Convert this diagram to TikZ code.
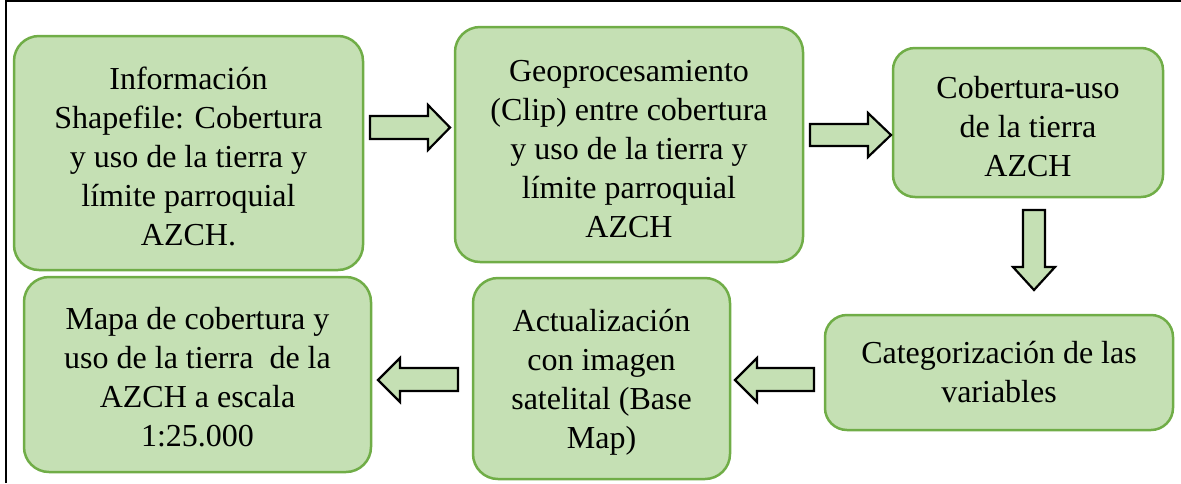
\documentclass[tikz,border=0pt]{standalone}
\usepackage{fontspec}
\setmainfont{Liberation Serif}
\newfontfamily\tnr{Liberation Serif}
\definecolor{boxfill}{HTML}{C5E0B4}
\definecolor{boxline}{HTML}{70AD47}
\tikzset{
  stepbox/.style={draw=boxline, fill=boxfill, line width=2.5pt, rounded corners=25pt, inner sep=0pt},
  boxtext/.style={inner sep=0pt, align=center, font=\tnr\fontsize{32}{39}\selectfont},
  blockarrow/.style={draw=black, fill=boxfill, line width=2.2pt, line join=miter},
  frameline/.style={draw=black, line width=2pt}
}
\begin{document}
\begin{tikzpicture}[x=1pt,y=-1pt]
\useasboundingbox (0,0) rectangle (1181,483);
\draw[frameline] (6,483) -- (6,1) -- (1181,1);

\node[stepbox, minimum width=349pt, minimum height=234pt] (b1) at (188.5,153) {};
\node[boxtext] (t1) at ([yshift=-3pt]b1.center)
  {Información\\Shapefile: Cobertura\\y uso de la tierra y\\límite parroquial\\AZCH.};
\node[stepbox, minimum width=348pt, minimum height=235pt] (b2) at (629,144.5) {};
\node[boxtext] (t2) at ([yshift=-5pt]b2.center)
  {Geoprocesamiento\\(Clip) entre cobertura\\y uso de la tierra y\\límite parroquial\\AZCH};
\node[stepbox, minimum width=270pt, minimum height=149pt, rounded corners=22pt] (b3) at (1028,122.5) {};
\node[boxtext] (t3) at ([yshift=-4pt]b3.center)
  {Cobertura-uso\\de la tierra\\AZCH};
\node[stepbox, minimum width=348pt, minimum height=115pt, rounded corners=22pt] (b4) at (999,372.5) {};
\node[boxtext] (t4) at ([yshift=0pt]b4.center)
  {Categorización de las\\variables};
\node[stepbox, minimum width=257pt, minimum height=201pt] (b5) at (601.5,378.5) {};
\node[boxtext] (t5) at ([yshift=-4pt]b5.center)
  {Actualización\\con imagen\\satelital (Base\\Map)};
\node[stepbox, minimum width=347pt, minimum height=195pt] (b6) at (197.5,374.5) {};
\node[boxtext] (t6) at ([yshift=-3pt]b6.center)
  {Mapa de cobertura y\\uso de la tierra\ \ de la\\AZCH a escala\\1:25.000};

% block arrows
\draw[blockarrow] (370,116) -- (428,116) -- (428,105) -- (450,127.5) -- (428,150) -- (428,139) -- (370,139) -- cycle;
\draw[blockarrow] (810,124) -- (868,124) -- (868,113) -- (891,135) -- (868,157) -- (868,146) -- (810,146) -- cycle;
\draw[blockarrow] (1023,210) -- (1045,210) -- (1045,267) -- (1055,267) -- (1034,290) -- (1013,267) -- (1023,267) -- cycle;
\draw[blockarrow] (458,368) -- (400,368) -- (400,358) -- (378,380) -- (400,402) -- (400,391) -- (458,391) -- cycle;
\draw[blockarrow] (814,368) -- (757,368) -- (757,358) -- (735,380) -- (757,402) -- (757,391) -- (814,391) -- cycle;
\end{tikzpicture}
\end{document}
